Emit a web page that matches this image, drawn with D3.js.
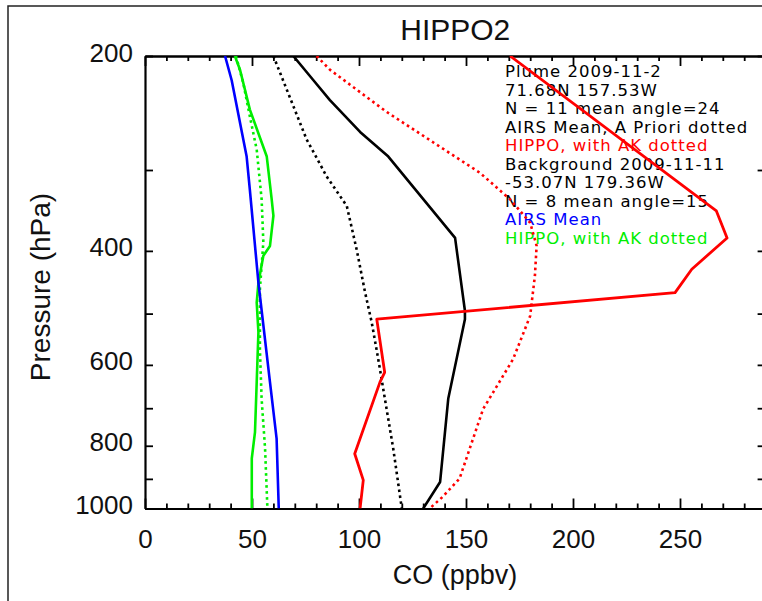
<!DOCTYPE html>
<html><head><meta charset="utf-8">
<script src="https://cdn.jsdelivr.net/npm/d3@7"></script>
<style>
body{margin:0;background:#fff}
svg{display:block}
text{font-family:"Liberation Sans",Arial,Helvetica,sans-serif}
text.leg{font-family:"DejaVu Sans",sans-serif}
</style>
</head><body>
<svg id="c" width="762" height="601"></svg>
<script>
// ---------- data ----------
const chartTitle = "HIPPO2";
const xLabel = "CO (ppbv)";
const yLabel = "Pressure (hPa)";
const xTickLabels = [0, 50, 100, 150, 200, 250];
const yTickLabels = [200, 400, 600, 800, 1000];
const yTickAll = [200, 300, 400, 500, 600, 700, 800, 900, 1000];

// Plume: HIPPO (red solid)
const plumeHippoP  = [200, 347, 382, 427, 464, 510, 616, 638, 823, 904, 1000];
const plumeHippoCO = [170.6, 267, 272, 255.5, 247.7, 108.3, 112, 109.8, 98, 102, 100.5];
// Plume: HIPPO with AK (red dotted)
const plumeHippoAKP  = [200, 210, 244, 303, 333, 362, 393, 437, 481, 504, 588, 702, 899, 960, 1000];
const plumeHippoAKCO = [80.2, 86.4, 112.9, 156.5, 170.6, 180, 183, 182.2, 180.7, 180, 172, 158, 147, 139, 133];
// Plume: AIRS mean (black solid)
const plumeAirsP  = [200, 218, 234, 262, 286, 382, 495, 510, 677, 910, 1000];
const plumeAirsCO = [69.3, 78.7, 86.4, 100.5, 113.7, 144.9, 149.5, 149.5, 141.7, 137.9, 130];
// Plume: A priori (black dotted)
const plumePriorP  = [200, 269, 307, 341, 398, 463, 515, 588, 677, 808, 1000];
const plumePriorCO = [60, 75.5, 84.9, 94.3, 98.9, 102.8, 105.9, 109, 112.1, 116, 120];
// Background: AIRS mean (blue solid)
const bgAirsP  = [200, 218, 286, 322, 448, 638, 780, 1000];
const bgAirsCO = [37.4, 40.5, 47.5, 49, 53, 58.4, 61.5, 62.5];
// Background: HIPPO (green solid)
const bgHippoP  = [200, 210, 242, 286, 333, 353, 393, 407, 448, 481, 534, 638, 762, 837, 1000];
const bgHippoCO = [42, 44.4, 49, 56.9, 59.2, 60, 58.4, 55.3, 53, 52.2, 53, 52.2, 51.4, 49.9, 49.9];
// Background: HIPPO with AK (green dotted)
const bgHippoAKP  = [200, 220, 248, 279, 333, 388, 422, 458, 567, 677, 808, 1000];
const bgHippoAKCO = [42.5, 45.9, 49, 52.2, 54.5, 55.3, 54.5, 53.7, 53.7, 54.5, 56.1, 57.2];

const legendLines = [
  "Plume 2009-11-2",
  "71.68N 157.53W",
  "N = 11 mean angle=24",
  "AIRS Mean, A Priori dotted",
  "HIPPO, with AK dotted",
  "Background 2009-11-11",
  "-53.07N 179.36W",
  "N = 8 mean angle=15",
  "AIRS Mean",
  "HIPPO, with AK dotted"
];
const legendColors = ["#000","#000","#000","#000","#ff0000","#000","#000","#000","#0000ff","#00ee00"];

// ---------- drawing ----------
const svg = d3.select("#c");
const L = 145, R = 765.6, T = 56, B = 508.5;
const x = d3.scaleLinear().domain([0, 290]).range([L, R]);
const y = d3.scaleLog().domain([200, 1000]).range([T, B]);

// outer frame
svg.append("rect").attr("x", 8).attr("y", 6).attr("width", 800).attr("height", 700)
  .attr("fill", "none").attr("stroke", "#222").attr("stroke-width", 1.5);

svg.append("defs").append("clipPath").attr("id", "clip")
  .append("rect").attr("x", L).attr("y", T).attr("width", R - L).attr("height", B - T);

// title
svg.append("text").attr("x", (L + R) / 2).attr("y", 40).attr("text-anchor", "middle")
  .attr("font-size", 30).attr("fill", "#111").text(chartTitle);

const minorX = d3.range(0, 291, 10).filter(d => d % 50 !== 0);
const majorX = d3.range(0, 291, 50);

function styleAxis(g) {
  g.select(".domain").attr("stroke", "#000").attr("stroke-width", 2.2);
  g.selectAll(".tick line").attr("stroke", "#000").attr("stroke-width", 1.8);
}

// bottom axis
const gb = svg.append("g").attr("transform", `translate(0,${B})`)
  .call(d3.axisBottom(x).tickValues(majorX).tickSize(-10).tickSizeOuter(0)
    .tickFormat(d => xTickLabels.includes(d) ? d : ""));
styleAxis(gb);
gb.selectAll(".tick text").attr("y", 39).attr("dy", 0).attr("font-size", 26).attr("fill", "#111");
const gbm = svg.append("g").attr("transform", `translate(0,${B})`)
  .call(d3.axisBottom(x).tickValues(minorX).tickSize(-5).tickSizeOuter(0).tickFormat(""));
styleAxis(gbm);

// top axis
const gt = svg.append("g").attr("transform", `translate(0,${T})`)
  .call(d3.axisTop(x).tickValues(majorX).tickSize(-10).tickSizeOuter(0).tickFormat(""));
styleAxis(gt);
const gtm = svg.append("g").attr("transform", `translate(0,${T})`)
  .call(d3.axisTop(x).tickValues(minorX).tickSize(-5).tickSizeOuter(0).tickFormat(""));
styleAxis(gtm);

// left axis
const gl = svg.append("g").attr("transform", `translate(${L},0)`)
  .call(d3.axisLeft(y).tickValues(yTickAll).tickSize(-8).tickSizeOuter(0)
    .tickFormat(d => yTickLabels.includes(d) ? d : ""));
styleAxis(gl);
gl.selectAll(".tick text").attr("x", -12).attr("dy", 5).attr("font-size", 26).attr("fill", "#111");

// right axis
const gr = svg.append("g").attr("transform", `translate(${R},0)`)
  .call(d3.axisRight(y).tickValues(yTickAll).tickSize(-8).tickSizeOuter(0).tickFormat(""));
styleAxis(gr);

// axis titles
svg.append("text").attr("x", 455).attr("y", 584).attr("text-anchor", "middle")
  .attr("font-size", 27).attr("fill", "#111").text(xLabel);
svg.append("text").attr("transform", "translate(50,287) rotate(-90)").attr("text-anchor", "middle")
  .attr("font-size", 28).attr("fill", "#111").text(yLabel);

// legend text
const lg = svg.append("g");
legendLines.forEach((t, i) => {
  lg.append("text").attr("class", "leg").attr("x", 505).attr("y", 77 + i * 18.5)
    .attr("font-size", 16.5).attr("letter-spacing", 1.0)
    .attr("fill", legendColors[i]).text(t);
});

// series
const series = [
  {p: bgHippoAKP, v: bgHippoAKCO, color: "#00ee00", dash: "2.6,3.4", w: 2.6},
  {p: bgHippoP, v: bgHippoCO, color: "#00ee00", dash: null, w: 2.6},
  {p: bgAirsP, v: bgAirsCO, color: "#0000ff", dash: null, w: 2.6},
  {p: plumePriorP, v: plumePriorCO, color: "#000", dash: "2.6,3.4", w: 2.6},
  {p: plumeAirsP, v: plumeAirsCO, color: "#000", dash: null, w: 2.6},
  {p: plumeHippoAKP, v: plumeHippoAKCO, color: "#ff0000", dash: "2.6,3.4", w: 2.6},
  {p: plumeHippoP, v: plumeHippoCO, color: "#ff0000", dash: null, w: 2.8}
];
const line = d3.line().x(d => x(d[1])).y(d => y(d[0]));
const pg = svg.append("g").attr("clip-path", "url(#clip)");
series.forEach(s => {
  pg.append("path").datum(d3.zip(s.p, s.v)).attr("d", line)
    .attr("fill", "none").attr("stroke", s.color).attr("stroke-width", s.w)
    .attr("stroke-linejoin", "round")
    .attr("stroke-dasharray", s.dash);
});
</script>
</body></html>
